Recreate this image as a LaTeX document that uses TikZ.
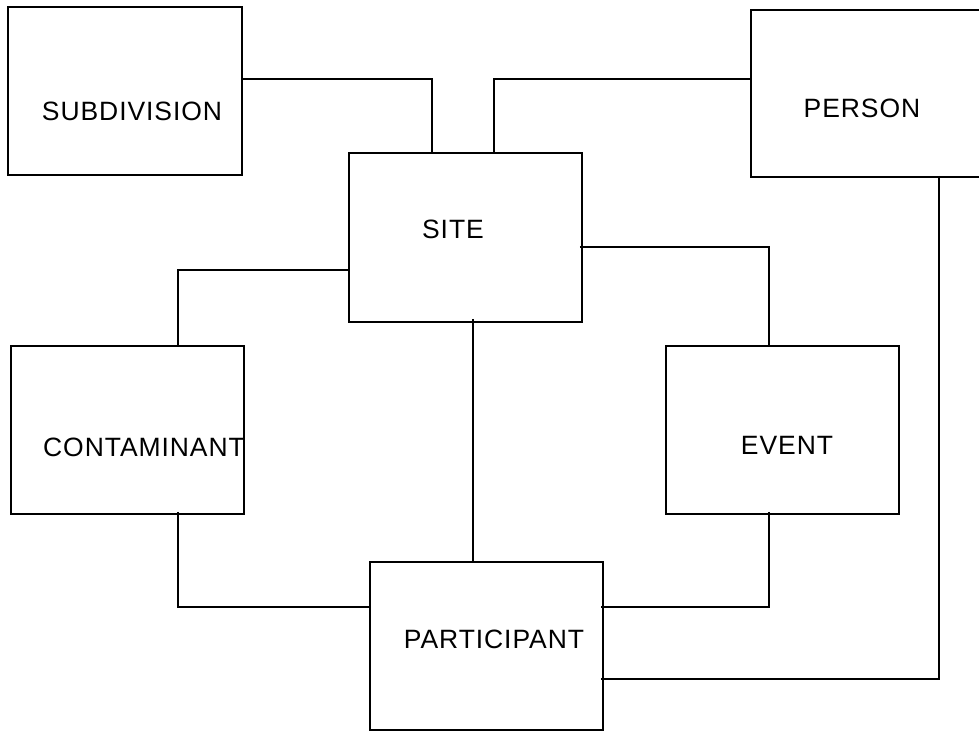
\documentclass[tikz,border=0pt]{standalone}
\usepackage{fontspec}
\setmainfont{Liberation Sans}[LetterSpace=3.5]
\usetikzlibrary{calc}
\begin{document}
\begin{tikzpicture}[x=1pt,y=-1pt,
  box/.style={draw,line width=1.6pt,inner sep=0pt,minimum width=233pt,minimum height=168pt},
  lbl/.style={inner sep=0pt,font=\fontsize{26.5}{31}\selectfont},
  conn/.style={line width=1.6pt}]
\useasboundingbox (0,0) rectangle (979,732);
% boxes
\node[box,minimum width=234pt] (sub) at (125,91) {};
\node[box,minimum height=169pt] (site) at (465.5,237.5) {};
\node[box,minimum height=167pt] (person) at (867.5,93.5) {};
\node[box] (cont) at (127.5,430) {};
\node[box] (event) at (782.5,430) {};
\node[box] (part) at (486.5,646) {};
% labels
\node[lbl] (subt) at (132,111) {SUBDIVISION};
\node[lbl] (sitet) at (453,229) {SITE};
\node[lbl] (persont) at (862,108) {PERSON};
\node[lbl] (contt) at (144,447) {CONTAMINANT};
\node[lbl] (eventt) at (787,445) {EVENT};
\node[lbl] (partt) at (494,639) {PARTICIPANT};
% junction coordinates
\coordinate (a1) at (432,79);
\coordinate (a2) at (494,79);
\coordinate (a3) at (178,270);
\coordinate (a4) at (769,247);
\coordinate (a5) at (473,320);
\coordinate (a6) at (178,607);
\coordinate (a7) at (769,607);
\coordinate (a8) at (939,679);
% connectors
\draw[conn] (sub.east |- a1) -| (a1 |- site.north);
\draw[conn] (person.west |- a2) -| (a2 |- site.north);
\draw[conn] (site.west |- a3) -| (a3 |- cont.north);
\draw[conn] ($(site.east |- a4)+(-3,0)$) -| (a4 |- event.north);
\draw[conn] ($(site.south -| a5)+(0,-4)$) -- (a5 |- part.north);
\draw[conn] ($(cont.south -| a6)+(0,-3)$) |- (part.west |- a6);
\draw[conn] ($(event.south -| a7)+(0,-3)$) |- ($(part.east |- a7)+(-3,0)$);
\draw[conn] ($(person.south -| a8)+(0,-2)$) |- ($(part.east |- a8)+(-3,0)$);
\end{tikzpicture}
\end{document}
